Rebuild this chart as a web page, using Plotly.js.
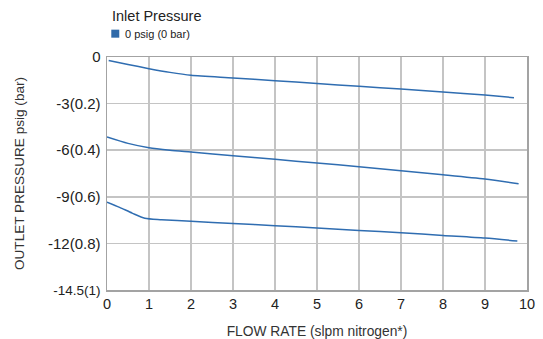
<!DOCTYPE html>
<html>
<head>
<meta charset="utf-8">
<script src="https://cdn.plot.ly/plotly-3.0.1.min.js"></script>
<style>html,body{margin:0;padding:0;background:#fff;}#chart{width:543px;height:339px;}</style>
</head>
<body>
<div id="chart"></div>
<script>
// Flow rate (slpm nitrogen) and outlet pressure readings, in chart units (grid step = 3)
const flowA = [0.04, 0.5, 1, 1.5, 2, 3, 4, 5, 6, 7, 8, 9, 9.69];
const outA  = [-0.22, -0.48, -0.75, -0.99, -1.18, -1.35, -1.53, -1.70, -1.89, -2.06, -2.25, -2.45, -2.62];
const flowB = [0, 0.5, 1, 1.5, 2, 3, 4, 5, 6, 7, 8, 9, 9.80];
const outB  = [-5.15, -5.56, -5.84, -6.0, -6.12, -6.36, -6.59, -6.83, -7.06, -7.32, -7.58, -7.86, -8.16];
const flowC = [0, 0.3, 0.6, 0.9, 1.3, 2, 3, 4, 5, 6, 7, 8, 9, 9.77];
const outC  = [-9.34, -9.68, -10.05, -10.38, -10.47, -10.57, -10.72, -10.86, -11.01, -11.17, -11.31, -11.49, -11.66, -11.85];

const xTicks = [0,1,2,3,4,5,6,7,8,9,10];
const yTickVals = [0, -3, -6, -9, -12, -15];
const yTickText = ['0', '-3(0.2)', '-6(0.4)', '-9(0.6)', '-12(0.8)', '<span style="font-size:13.5px">-14.5(1)</span>'];
const legendTitle = 'Inlet Pressure';
const seriesName = '0 psig (0 bar)';

const lineColor = '#2f6db1';
const mk = (x, y) => ({x: x, y: y, mode: 'lines', name: seriesName, line: {color: lineColor, width: 1.5, shape: 'spline', smoothing: 0.7}, showlegend: false, hoverinfo: 'skip'});
const traces = [mk(flowA, outA), mk(flowB, outB), mk(flowC, outC)];

const layout = {
  width: 543, height: 339,
  margin: {l: 106.7, r: 15.7, t: 57.3, b: 49, autoexpand: false},
  paper_bgcolor: '#fff', plot_bgcolor: '#fff',
  font: {family: 'Liberation Sans, Arial, sans-serif', color: '#222', size: 14},
  showlegend: false,
  annotations: [
    {xref: 'paper', yref: 'paper', x: 0, y: 0, text: legendTitle, showarrow: false},
    {xref: 'paper', yref: 'paper', x: 0, y: 0, text: seriesName, showarrow: false}
  ],
  shapes: [
    {type: 'rect', xref: 'paper', yref: 'paper', x0: 0, x1: 0, y0: 0, y1: 0, fillcolor: '#2f6aa9', line: {width: 0}}
  ],
  xaxis: {
    range: [0, 10], tickvals: xTicks, ticktext: xTicks.map(String),
    showgrid: true, gridcolor: '#c4c4c4', gridwidth: 1.5,
    showline: true, linecolor: '#a3a3a3', linewidth: 1.5, mirror: true,
    zeroline: false, ticks: '', ticklen: 0,
    tickfont: {size: 14.5, color: '#222'},
    title: {text: 'FLOW RATE (slpm nitrogen*)', font: {size: 13.8, color: '#333'}, standoff: 19},
    fixedrange: true
  },
  yaxis: {
    range: [-15, 0], tickvals: yTickVals, ticktext: yTickText,
    showgrid: true, gridcolor: '#c4c4c4', gridwidth: 1.5,
    showline: true, linecolor: '#a3a3a3', linewidth: 1.5, mirror: true,
    zeroline: false, ticks: '', ticklen: 0, ticklabelstandoff: 2,
    tickfont: {size: 15, color: '#222'},
    title: {text: 'OUTLET PRESSURE psig (bar)', font: {size: 13.6, color: '#333'}, standoff: 20},
    fixedrange: true
  }
};

// convert pixel positions for legend-like annotations and swatch to paper coordinates
const pw = 543 - layout.margin.l - layout.margin.r;
const ph = 339 - layout.margin.t - layout.margin.b;
const px = v => (v - layout.margin.l) / pw;
const py = v => (339 - layout.margin.b - v) / ph;
Object.assign(layout.annotations[0], {x: px(110), y: py(16), xanchor: 'left', yanchor: 'middle', font: {size: 14.5, color: '#222'}});
Object.assign(layout.annotations[1], {x: px(122.5), y: py(34), xanchor: 'left', yanchor: 'middle', font: {size: 11, color: '#222'}});
Object.assign(layout.shapes[0], {x0: px(111), x1: px(119), y0: py(38), y1: py(30)});

Plotly.newPlot('chart', traces, layout, {displayModeBar: false, staticPlot: true});
</script>
</body>
</html>
